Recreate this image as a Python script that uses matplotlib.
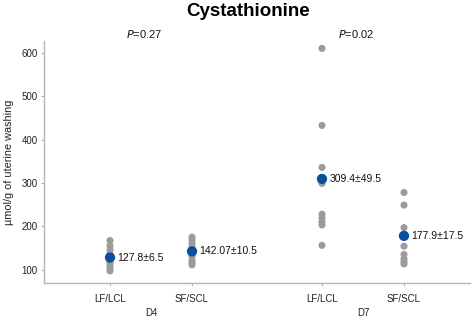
import matplotlib
matplotlib.use("Agg")
import matplotlib.pyplot as plt
from matplotlib import transforms

plt.rcParams['font.family'] = ['Liberation Sans', 'DejaVu Sans']

# ---- data ----
groups = ["D4", "D7"]
categories = ["LF/LCL", "SF/SCL", "LF/LCL", "SF/SCL"]
positions = [0.0, 1.0, 2.585, 3.585]
d4_lf = [167, 155, 145, 136, 128, 122, 116, 110, 104, 97]
d4_sf = [175, 168, 160, 152, 145, 138, 130, 122, 116, 111]
d7_lf = [611, 433, 336, 305, 299, 228, 218, 210, 203, 156]
d7_sf = [278, 249, 197, 154, 135, 125, 118, 113]
series = [d4_lf, d4_sf, d7_lf, d7_sf]
means = [127.8, 142.07, 309.4, 177.9]
mean_labels = ["127.8±6.5", "142.07±10.5", "309.4±49.5", "177.9±17.5"]
p_values = ["0.27", "0.02"]
yticks = [100, 200, 300, 400, 500, 600]

grey = "#9b9b9b"
blue = "#0a4ea0"
axis_col = "#b3b3b3"

fig = plt.figure(figsize=(4.72, 3.19), dpi=100)
ax = fig.add_axes([44/472, 1-283/319, (470-44)/472, (283-41)/319])

for pos, vals in zip(positions, series):
    ax.scatter([pos]*len(vals), vals, s=26, color=grey, edgecolors="none", zorder=2)
for pos, m, lab in zip(positions, means, mean_labels):
    ax.scatter([pos], [m], s=55, color=blue, edgecolors="none", zorder=3)
    ax.annotate(lab, (pos, m), xytext=(5.5, 0), textcoords="offset points",
                va="center", ha="left", fontsize=7.5, color="#111111")

ax.set_xlim(-0.805, 4.39)
ax.set_ylim(69, 628)
ax.set_xticks(positions)
ax.set_xticklabels(categories, fontsize=7, color="#222222")
ax.set_yticks(yticks)
ax.set_yticklabels([str(t) for t in yticks], fontsize=7, color="#222222")
ax.tick_params(axis="x", length=2.5, color=axis_col, pad=5.5)
ax.tick_params(axis="y", length=2.5, color=axis_col, pad=2)

for s in ["top", "right"]:
    ax.spines[s].set_visible(False)
for s in ["left", "bottom"]:
    ax.spines[s].set_color(axis_col)
    ax.spines[s].set_linewidth(1.0)

trans = transforms.blended_transform_factory(ax.transData, ax.transAxes)
group_centers = [(positions[0]+positions[1])/2, (positions[2]+positions[3])/2]
for gc, g, p in zip(group_centers, groups, p_values):
    ax.text(gc, -0.125, g, transform=trans, ha="center", va="center",
            fontsize=7, color="#222222")
    ax.text(gc - 0.08, 1.03, r"$\mathit{P}$=" + p, transform=trans, ha="center",
            va="center", fontsize=8, color="#111111")

ax.set_ylabel("µmol/g of uterine washing", fontsize=7.8, color="#222222")
ax.yaxis.set_label_coords(-30/426, 0.5)
fig.text(248/472, 1-12/319, "Cystathionine", ha="center", va="center",
         fontsize=13.5, fontweight="bold")

fig.savefig("out.png", dpi=100)
